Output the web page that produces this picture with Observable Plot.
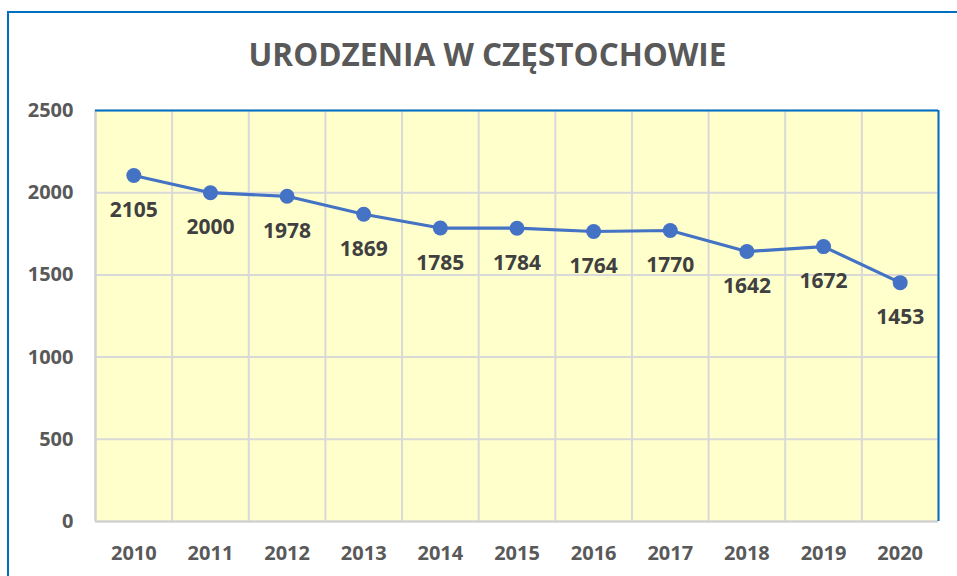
<!DOCTYPE html>
<html>
<head>
<meta charset="utf-8">
<script src="https://cdn.jsdelivr.net/npm/d3@7"></script>
<script src="https://cdn.jsdelivr.net/npm/@observablehq/plot@0.6"></script>
<style>
  html, body { margin: 0; padding: 0; background: #fff; }
  #wrap { position: relative; width: 957px; height: 576px; overflow: hidden; font-family: "Open Sans", sans-serif; }
  #frame { position: absolute; left: 7px; top: 11px; width: 1000px; height: 600px; border-left: 2px solid #0070C0; border-top: 2px solid #0070C0; box-sizing: border-box; }
  #title { position: absolute; left: 0; width: 975px; top: 33px; text-align: center; font-size: 31.5px; font-weight: 700; color: #595959; line-height: 42px; }
  #chart { position: absolute; left: 0; top: 0; }
</style>
</head>
<body>
<div id="wrap">
  <div id="frame"></div>
  <div id="title">URODZENIA W CZĘSTOCHOWIE</div>
  <div id="chart"></div>
</div>
<script>
const years = [2010, 2011, 2012, 2013, 2014, 2015, 2016, 2017, 2018, 2019, 2020];
const births = [2105, 2000, 1978, 1869, 1785, 1784, 1764, 1770, 1642, 1672, 1453];
const yTicks = [0, 500, 1000, 1500, 2000, 2500];

const data = years.map((y, i) => ({year: y, value: births[i]}));
const bounds = d3.range(years.length + 1).map(k => years[0] - 0.5 + k);

const chart = Plot.plot({
  width: 957,
  height: 576,
  marginLeft: 95,
  marginRight: 19,
  marginTop: 110,
  marginBottom: 55,
  style: {background: "transparent", fontFamily: "Open Sans, sans-serif"},
  x: {domain: [years[0] - 0.5, years[years.length - 1] + 0.5], label: null},
  y: {domain: [0, 2500], label: null},
  marks: [
    Plot.frame({fill: "#FFFFCC", stroke: null}),
    Plot.gridY(yTicks, {stroke: "#D9D9D9", strokeWidth: 2, strokeOpacity: 1}),
    Plot.ruleX(bounds, {stroke: "#D9D9D9", strokeWidth: 2, strokeOpacity: 1}),
    Plot.ruleY([0], {stroke: "#D0D0D0", strokeWidth: 2}),
    Plot.ruleX([bounds[0]], {stroke: "#D0D0D0", strokeWidth: 2}),
    Plot.ruleY([2500], {stroke: "#0070C0", strokeWidth: 2}),
    Plot.ruleX([bounds[bounds.length - 1]], {stroke: "#0070C0", strokeWidth: 2}),
    Plot.axisX({ticks: years, tickFormat: d => String(d), tickSize: 0, tickPadding: 24, fontSize: 20, fontWeight: 700, fill: "#595959", label: null}),
    Plot.axisY({ticks: yTicks, tickFormat: d => String(d), tickSize: 0, tickPadding: 22, fontSize: 20, fontWeight: 700, fill: "#595959", label: null}),
    Plot.line(data, {x: "year", y: "value", stroke: "#4472C4", strokeWidth: 3.2}),
    Plot.dot(data, {x: "year", y: "value", r: 7.5, fill: "#4472C4", stroke: null}),
    Plot.text(data, {x: "year", y: "value", text: d => String(d.value), dy: 35, fontSize: 21, fontWeight: 700, fill: "#404040"})
  ]
});
document.getElementById("chart").appendChild(chart);
</script>
</body>
</html>
